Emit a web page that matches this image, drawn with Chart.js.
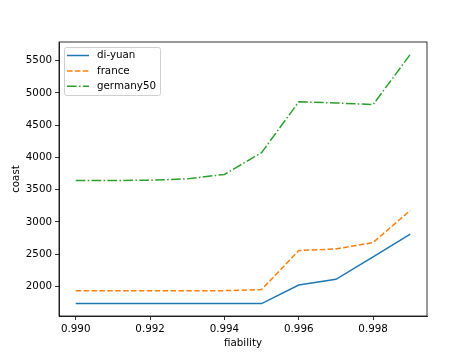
<!DOCTYPE html>
<html>
<head>
<meta charset="utf-8">
<script src="https://cdn.jsdelivr.net/npm/chart.js@4/dist/chart.umd.min.js"></script>
<style>
html, body { margin: 0; padding: 0; background: #fff; }
#wrap { width: 474px; height: 355px; }
</style>
</head>
<body>
<div id="wrap"><canvas id="c" width="474" height="355"></canvas></div>
<script>
const fiability = [0.990, 0.991, 0.992, 0.993, 0.994, 0.995, 0.996, 0.997, 0.998, 0.999];
const diYuan = [1735, 1735, 1735, 1735, 1735, 1735, 2022, 2110, 2460, 2811];
const france = [1935, 1935, 1935, 1935, 1935, 1952, 2557, 2582, 2681, 3180];
const germany50 = [3644, 3644, 3646, 3668, 3737, 4075, 4862, 4845, 4820, 5597];
const xTicks = [0.990, 0.992, 0.994, 0.996, 0.998];
const yTicks = [2000, 2500, 3000, 3500, 4000, 4500, 5000, 5500];

function pts(vals){
return fiability.map((x, i) => ({x: x, y: vals[i]}));
}

const font = {family: "DejaVu Sans", size: 10.3};

// box round the plot, like matplotlib spines
const frame = {
id: "frame",
afterDraw(chart){
const a = chart.chartArea, ctx = chart.ctx;
ctx.save();
ctx.strokeStyle = "#000";
ctx.lineWidth = 0.8;
ctx.strokeRect(a.left, a.top, a.right - a.left, a.bottom - a.top);
ctx.restore();
}
};

// legend inside upper left
const legendBox = {
id: "legendBox",
afterDraw(chart){
const ctx = chart.ctx, a = chart.chartArea;
const x0 = a.left + 5, y0 = a.top + 5;
ctx.save();
ctx.fillStyle = "rgba(255,255,255,0.8)";
ctx.strokeStyle = "#d0d0d0";
ctx.lineWidth = 1;
ctx.beginPath();
ctx.roundRect(x0 + 0.5, y0 + 0.5, 96, 48, 2);
ctx.fill();
ctx.stroke();
ctx.font = "10.3px 'DejaVu Sans'";
ctx.textBaseline = "middle";
chart.data.datasets.forEach((ds, i) => {
const y = y0 + 8.5 + i * 15.4;
ctx.strokeStyle = ds.borderColor;
ctx.lineWidth = 1.5;
ctx.setLineDash(ds.borderDash || []);
ctx.beginPath();
ctx.moveTo(x0 + 3, y);
ctx.lineTo(x0 + 25, y);
ctx.stroke();
ctx.setLineDash([]);
ctx.fillStyle = "#000";
ctx.fillText(ds.label, x0 + 33, y);
});
ctx.restore();
}
};

new Chart(document.getElementById("c"), {
type: "line",
data: {
datasets: [
{label: "di-yuan", data: pts(diYuan), borderColor: "#1f77b4", borderWidth: 1.5, pointRadius: 0, fill: false},
{label: "france", data: pts(france), borderColor: "#ff7f0e", borderWidth: 1.5, borderDash: [5.5, 2.4], pointRadius: 0, fill: false},
{label: "germany50", data: pts(germany50), borderColor: "#2ca02c", borderWidth: 1.5, borderDash: [9.6, 2.4, 1.5, 2.4], pointRadius: 0, fill: false}
]
},
options: {
responsive: false,
animation: false,
layout: {padding: {left: 0, top: 42, right: 47, bottom: 0}},
plugins: {legend: {display: false}, tooltip: {enabled: false}},
scales: {
x: {
type: "linear",
min: 0.98955,
max: 0.99945,
afterBuildTicks(s){ s.ticks = xTicks.map(v => ({value: v})); },
afterFit(s){ s.height = 39; },
grid: {drawOnChartArea: false, tickLength: 4, tickColor: "#000", tickWidth: 0.8},
border: {color: "#000", width: 0.8},
ticks: {color: "#000", font: font, padding: 3, maxRotation: 0, callback: v => v.toFixed(3)},
title: {display: true, text: "fiability", color: "#000", font: font, padding: {top: 0, bottom: 5}}
},
y: {
min: 1542,
max: 5790,
afterBuildTicks(s){ s.ticks = yTicks.map(v => ({value: v})); },
afterFit(s){ s.width = 59; },
grid: {drawOnChartArea: false, tickLength: 4, tickColor: "#000", tickWidth: 0.8},
border: {color: "#000", width: 0.8},
ticks: {color: "#000", font: font, padding: 3, callback: v => String(v)},
title: {display: true, text: "coast", color: "#000", font: font, padding: {top: 10, bottom: 0}}
}
}
},
plugins: [frame, legendBox]
});
</script>
</body>
</html>
